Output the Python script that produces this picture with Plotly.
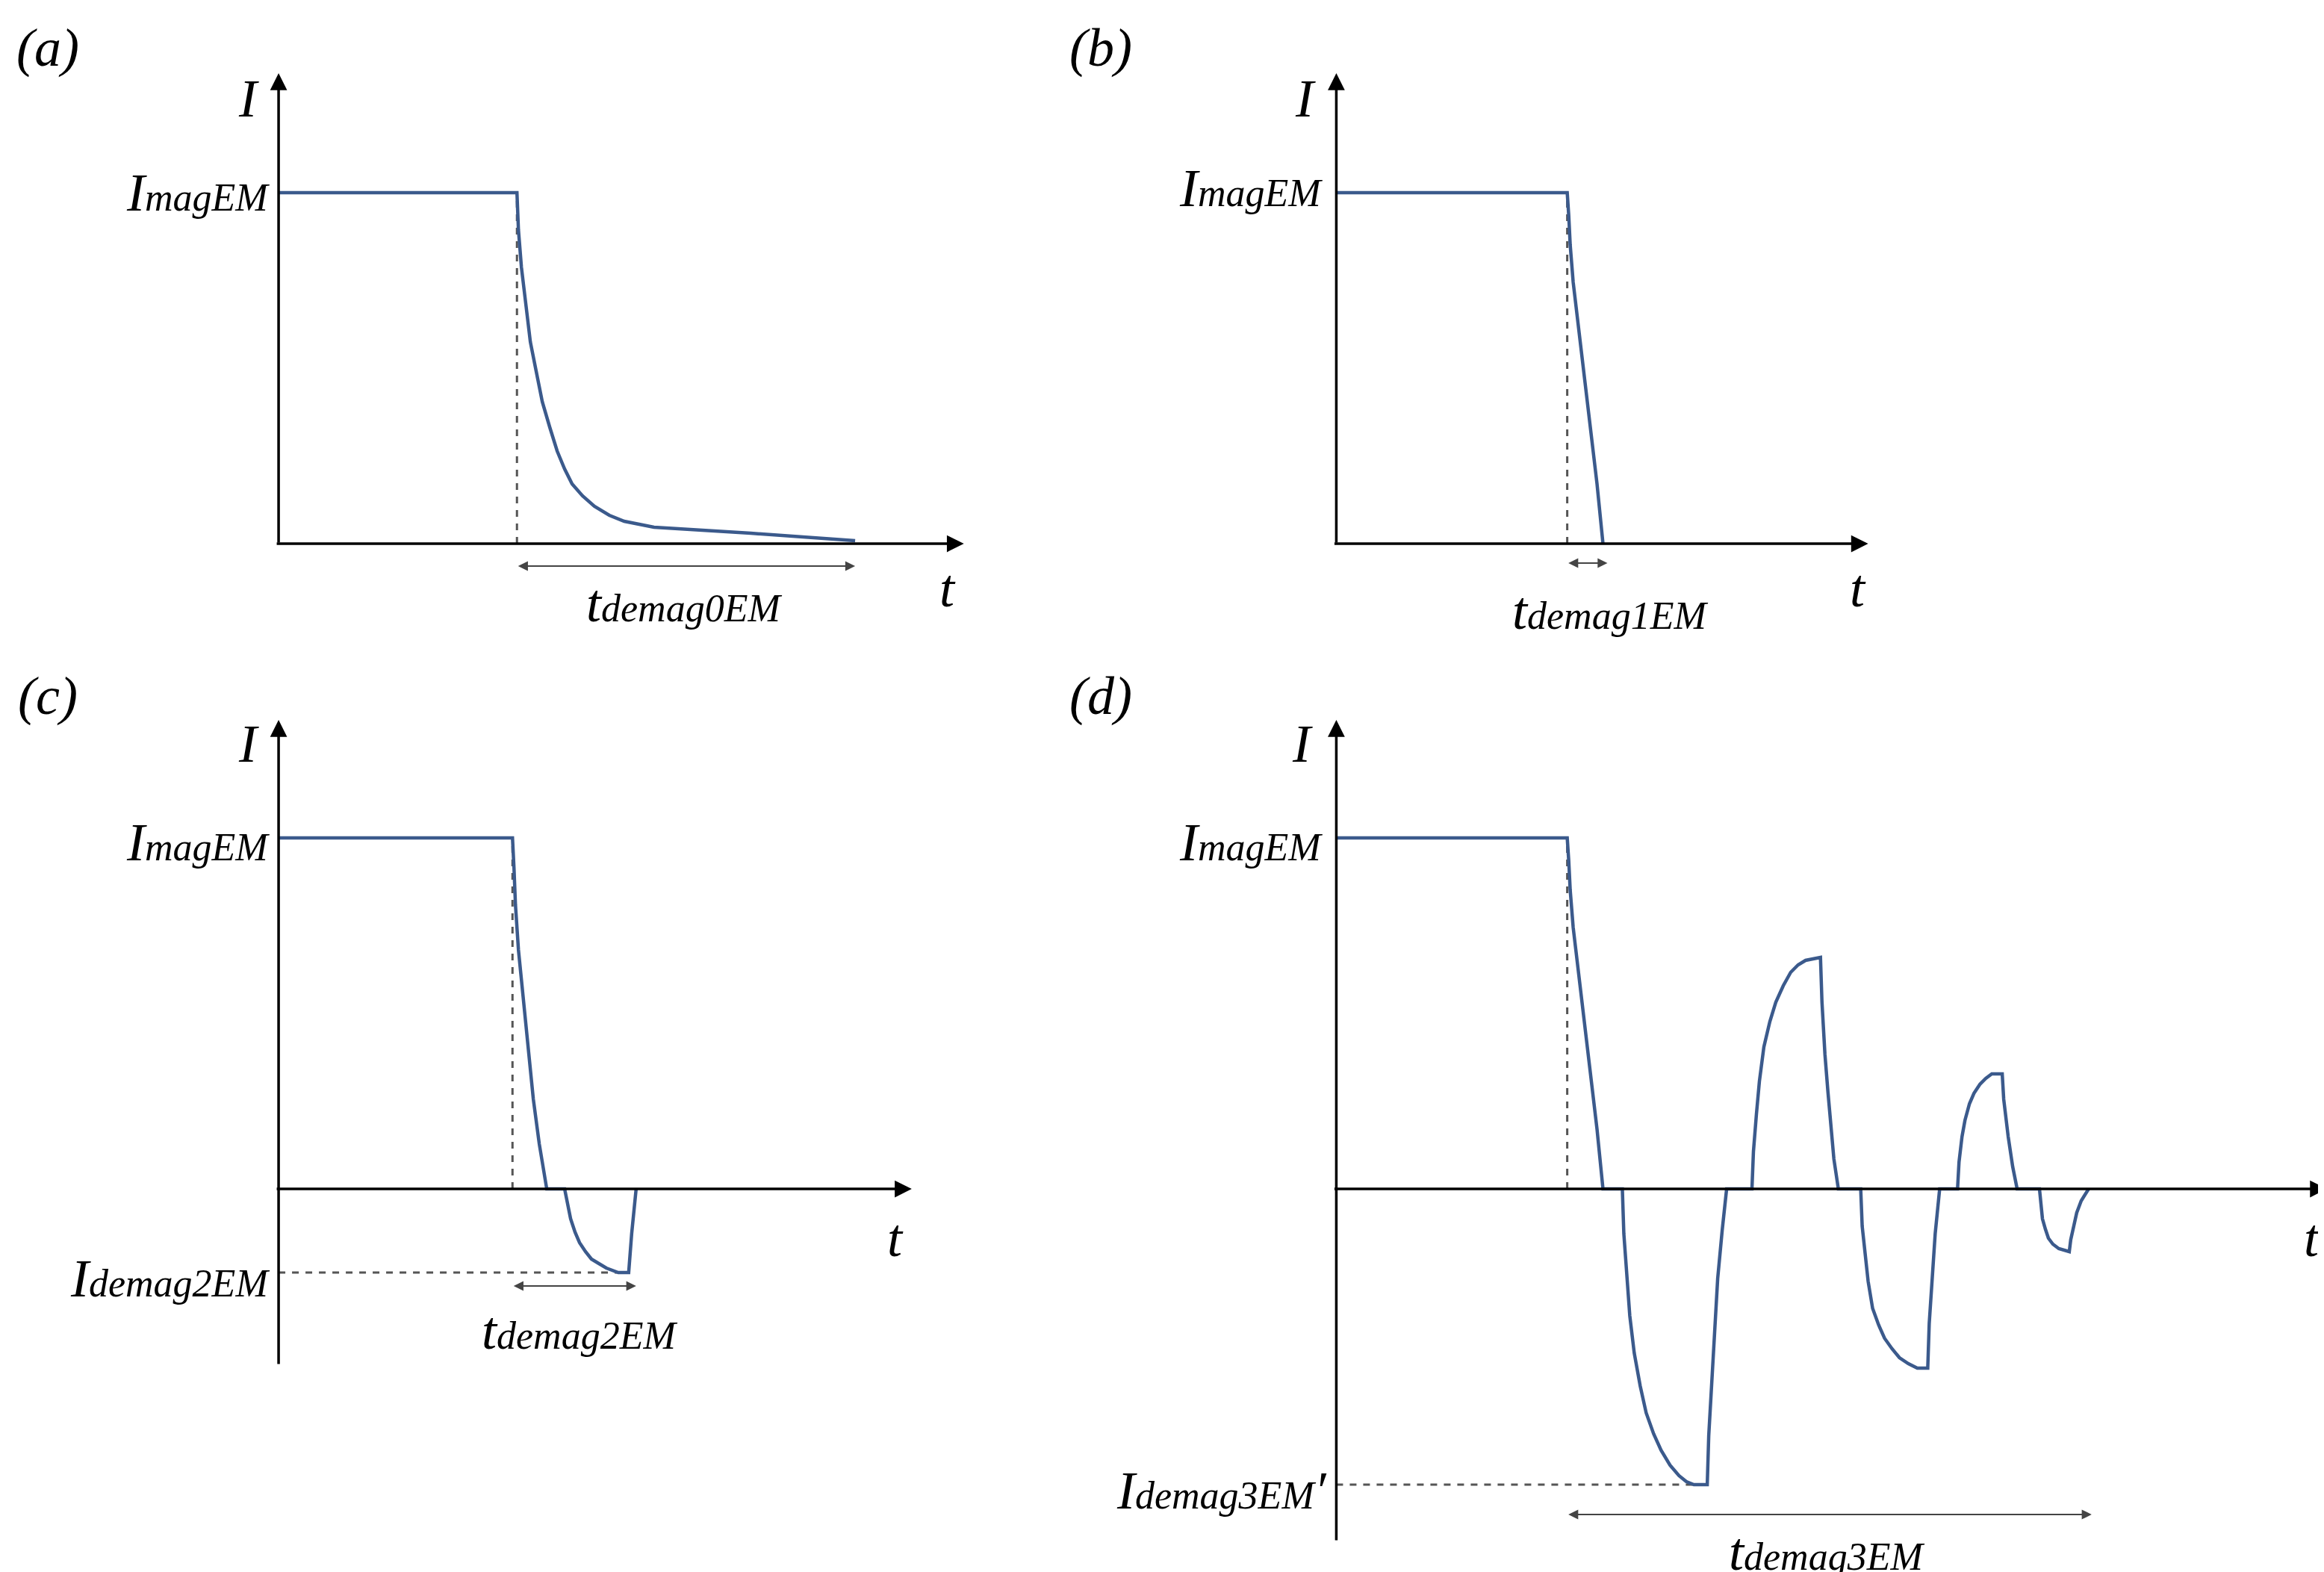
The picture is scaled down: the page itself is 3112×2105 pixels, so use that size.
import plotly.graph_objects as go

# Panel curves: t in time units from the origin, I in current units (I_mag = 235)
I_mag = 235
t_a = [0, 160, 161, 163, 166, 169, 173, 177, 182, 187, 192, 197, 204, 212, 222, 232, 252, 317, 387]
I_a = [235, 235, 210, 185, 160, 135, 115, 95, 78, 62, 50, 40, 32, 25, 19, 15, 11, 7, 2]

t_b = [0, 155, 156, 157, 159, 162, 166, 170, 175, 179]
I_b = [235, 235, 220, 200, 175, 150, 115, 80, 40, 0]

t_c = [0, 157, 158, 159, 161, 164, 167, 171, 175, 180, 192, 194, 196, 199, 202, 206, 210, 215, 220, 228, 235, 237, 240]
I_c = [235, 235, 215, 190, 160, 130, 95, 60, 30, 0, 0, -10, -20, -29, -36, -42, -47, -50, -53, -56, -56, -30, 0]

t_d = [0, 155, 156, 157, 159, 162, 166, 170, 175, 179, 192, 193, 195, 197, 200, 204, 208, 213, 218, 224, 230, 235, 240, 249, 250, 252, 254, 256, 259, 262,
       279, 280, 282, 284, 287, 291, 295, 300, 305, 310, 315, 325, 326, 328, 330, 332, 334, 337,
       352, 353, 355, 357, 360, 364, 368, 373, 378, 384, 390, 397, 398, 400, 402, 405,
       417, 418, 420, 422, 425, 428, 432, 436, 440, 447, 448, 451, 454, 457,
       472, 473, 474, 476, 478, 481, 485, 492, 493, 495, 497, 500, 505]
I_d = [235, 235, 220, 200, 175, 150, 115, 80, 40, 0, 0, -30, -60, -85, -110, -132, -150, -164, -175, -185, -192, -196, -198, -198, -165, -130, -95, -60, -28, 0,
       0, 25, 50, 72, 95, 112, 125, 136, 145, 150, 153, 155, 125, 90, 65, 40, 20, 0,
       0, -25, -45, -62, -80, -91, -100, -107, -113, -117, -120, -120, -90, -60, -30, 0,
       0, 18, 35, 46, 57, 64, 70, 74, 77, 77, 60, 35, 15, 0,
       0, -10, -20, -27, -33, -37, -40, -42, -34, -25, -16, -8, 0]

panels = [
    dict(t=t_a, I=I_a, ox=183, oy=360, ytop=315, ybot=0, xend=460, tdrop=160, dem=None,
         span=(160, 387), spany=-15, tlab="demag0EM", tlabpos=(272, -40), tpos=(449, -30),
         tag="(a)", tagpos=(-155, 332), Ipos=(-20, 298), magx=-5, magy=235),
    dict(t=t_b, I=I_b, ox=893, oy=360, ytop=315, ybot=0, xend=357, tdrop=155, dem=None,
         span=(155, 182), spany=-13, tlab="demag1EM", tlabpos=(184, -45), tpos=(350, -30),
         tag="(b)", tagpos=(-158, 332), Ipos=(-21, 298), magx=-8, magy=238),
    dict(t=t_c, I=I_c, ox=183, oy=792, ytop=314, ybot=-118, xend=425, tdrop=157, dem=(-56, 227, "demag2EM", ""),
         span=(157, 240), spany=-65, tlab="demag2EM", tlabpos=(202, -95), tpos=(414, -33),
         tag="(c)", tagpos=(-155, 330), Ipos=(-20, 298), magx=-5, magy=232),
    dict(t=t_d, I=I_d, ox=893, oy=792, ytop=314, ybot=-236, xend=665, tdrop=155, dem=(-198, 249, "demag3EM", "′"),
         span=(155, 507), spany=-218, tlab="demag3EM", tlabpos=(329, -243), tpos=(655, -33),
         tag="(d)", tagpos=(-158, 330), Ipos=(-23, 298), magx=-8, magy=232),
]

W, H = 1560, 1052.5
BLUE = "#3b5a8c"
DASH = "#555555"
FONT = "Liberation Serif"
BIG = 72
SMALL = 52


def lab(main, sub, tail=""):
    return f"<i>{main}<span style='font-size:{SMALL}px'>{sub}</span>{tail}</i>"


fig = go.Figure()
layout = dict(width=3112, height=2105, margin=dict(l=0, r=0, t=0, b=0),
              paper_bgcolor="white", plot_bgcolor="rgba(0,0,0,0)", showlegend=False)
ann, shapes = [], []
for k, p in enumerate(panels, start=1):
    xa, ya = ("x" if k == 1 else f"x{k}"), ("y" if k == 1 else f"y{k}")
    xn, yn = ("xaxis" if k == 1 else f"xaxis{k}"), ("yaxis" if k == 1 else f"yaxis{k}")
    layout[xn] = dict(range=[-p["ox"], W - p["ox"]], domain=[0, 1], visible=False, anchor=ya, fixedrange=True)
    layout[yn] = dict(range=[p["oy"] - H, p["oy"]], domain=[0, 1], visible=False, anchor=xa, fixedrange=True)
    fig.add_trace(go.Scatter(x=p["t"], y=p["I"], mode="lines", line=dict(color=BLUE, width=4.5),
                             xaxis=xa, yaxis=ya, hoverinfo="skip"))
    ann.append(dict(x=p["xend"], y=0, ax=-2, ay=0, xref=xa, yref=ya, axref=xa, ayref=ya, text="",
                    showarrow=True, arrowhead=2, arrowsize=1.3, arrowwidth=3.5, arrowcolor="black"))
    ann.append(dict(x=0, y=p["ytop"], ax=0, ay=p["ybot"], xref=xa, yref=ya, axref=xa, ayref=ya, text="",
                    showarrow=True, arrowhead=2, arrowsize=1.3, arrowwidth=3.5, arrowcolor="black"))
    shapes.append(dict(type="line", xref=xa, yref=ya, x0=p["tdrop"], x1=p["tdrop"], y0=0, y1=I_mag,
                       line=dict(color=DASH, width=3, dash="dash"), layer="below"))
    ann.append(dict(x=p["span"][1], y=p["spany"], ax=p["span"][0], ay=p["spany"], xref=xa, yref=ya,
                    axref=xa, ayref=ya, text="", showarrow=True, arrowhead=2, arrowside="end+start",
                    arrowsize=1.2, arrowwidth=2.2, arrowcolor="#444"))
    tf = dict(family=FONT, size=BIG, color="black")
    ann.append(dict(x=p["tlabpos"][0], y=p["tlabpos"][1], xref=xa, yref=ya, text=lab("t", p["tlab"]),
                    showarrow=False, font=tf, xanchor="center", yanchor="middle"))
    ann.append(dict(x=p["tpos"][0], y=p["tpos"][1], xref=xa, yref=ya, text="<i>t</i>",
                    showarrow=False, font=tf, xanchor="center", yanchor="middle"))
    ann.append(dict(x=p["tagpos"][0], y=p["tagpos"][1], xref=xa, yref=ya, text=f"<i>{p['tag']}</i>",
                    showarrow=False, font=tf, xanchor="center", yanchor="middle"))
    ann.append(dict(x=p["Ipos"][0], y=p["Ipos"][1], xref=xa, yref=ya, text="<i>I</i>",
                    showarrow=False, font=tf, xanchor="center", yanchor="middle"))
    ann.append(dict(x=p["magx"], y=p["magy"], xref=xa, yref=ya, text=lab("I", "magEM"),
                    showarrow=False, font=tf, xanchor="right", yanchor="middle"))
    if p["dem"]:
        dv, dt, dl, tail = p["dem"]
        shapes.append(dict(type="line", xref=xa, yref=ya, x0=0, x1=dt, y0=dv, y1=dv,
                           line=dict(color=DASH, width=3, dash="dash"), layer="below"))
        ann.append(dict(x=-5, y=dv - 4, xref=xa, yref=ya, text=lab("I", dl, tail),
                        showarrow=False, font=tf, xanchor="right", yanchor="middle"))

layout["annotations"] = ann
layout["shapes"] = shapes
fig.update_layout(**layout)
fig.write_html("out.html")
